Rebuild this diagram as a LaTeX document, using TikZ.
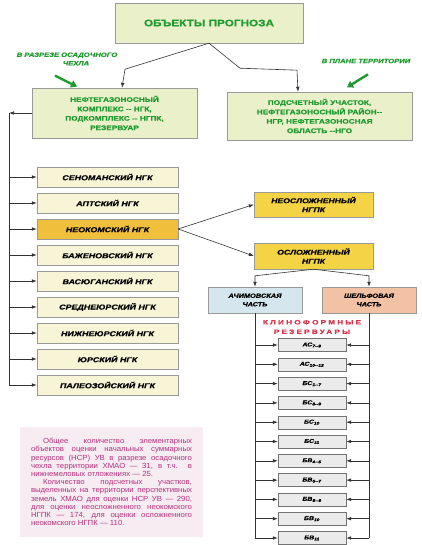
\documentclass[tikz,border=0pt]{standalone}
\usepackage{fontspec}
\setmainfont{Liberation Sans}
\newfontfamily\heavysans[FakeStretch=1.25, FakeBold=0.8, ItalicFont={Liberation Sans Bold Italic}]{Liberation Sans Bold}
\newfontfamily\spacedsans[FakeStretch=1.3, FakeBold=1, LetterSpace=35]{Liberation Sans Bold}
\newfontfamily\notesans[FakeStretch=1.05]{Liberation Sans}
\usetikzlibrary{arrows.meta}
\definecolor{boxgreen}{HTML}{EAF0CA}
\definecolor{boxcream}{HTML}{F7F5D6}
\definecolor{boxorange}{HTML}{F0C03C}
\definecolor{boxyellow}{HTML}{F4D444}
\definecolor{boxblue}{HTML}{D6E6EE}
\definecolor{boxsalmon}{HTML}{F3C2A4}
\definecolor{textgreen}{HTML}{1E9A2E}
\definecolor{headred}{HTML}{D8344C}
\definecolor{notebg}{HTML}{F6ECF2}
\definecolor{notetext}{HTML}{B5307C}
\begin{document}
\begin{tikzpicture}[x=1pt, y=-1pt,
    line/.style={draw=black!80, line width=0.6pt},
    arr/.style={line, -{Latex[length=5pt,width=3.6pt]}},
    greenarr/.style={draw=textgreen, line width=2.4pt, -{Triangle[length=6pt,width=7.5pt]}},
    greenbox/.style={draw=black!40, fill=boxgreen, text=textgreen, align=center, inner sep=0pt,
        font=\heavysans\fontsize{6.6}{9.4}\selectfont},
    greenlbl/.style={text=textgreen, align=center, inner sep=1pt,
        font=\heavysans\itshape\fontsize{6.1}{8.5}\selectfont},
    ngkbox/.style={draw=black!40, fill=boxcream, minimum width=141pt, minimum height=20pt, inner sep=0pt,
        font=\heavysans\itshape\fontsize{7.1}{8}\selectfont},
    ngpkbox/.style={draw=black!40, fill=boxyellow, minimum width=119pt, align=center, inner sep=0pt,
        font=\heavysans\itshape\fontsize{6.9}{9}\selectfont},
    partbox/.style={draw=black!40, minimum width=94pt, minimum height=26pt, align=center, inner sep=0pt,
        font=\heavysans\itshape\fontsize{5.9}{8.5}\selectfont},
    clinobox/.style={draw=black!55, fill=black!8, minimum width=68pt, minimum height=13pt, inner sep=0pt,
        font=\heavysans\itshape\fontsize{5.6}{6}\selectfont}
]
    \useasboundingbox (0,0) rectangle (422,545);

    % Top of the scheme
    \node[greenbox, minimum width=188pt, minimum height=40pt, font=\heavysans\fontsize{9.4}{10}\selectfont] (top) at (209,23) {ОБЪЕКТЫ ПРОГНОЗА};
    \node[greenbox, minimum width=165pt, minimum height=50pt] (ngk) at (114.5,113) {НЕФТЕГАЗОНОСНЫЙ\\КОМПЛЕКС -- НГК,\\ПОДКОМПЛЕКС -- НГПК,\\РЕЗЕРВУАР};
    \node[greenbox, minimum width=185pt, minimum height=48pt] (terr) at (319.5,116) {ПОДСЧЕТНЫЙ УЧАСТОК,\\НЕФТЕГАЗОНОСНЫЙ РАЙОН--\\НГР, НЕФТЕГАЗОНОСНАЯ\\ОБЛАСТЬ --НГО};

    \draw[arr] (top.south) -- ++(-84,26) -- ([xshift=7.5pt]ngk.north);
    \draw[arr] (top.south) -- ++(31,25) -- ++(57,2) -- ([xshift=-21.5pt]terr.north);

    % Green labels
    \node[greenlbl] (lblsec) at (67,59) {В РАЗРЕЗЕ ОСАДОЧНОГО\\\hspace*{18pt}ЧЕХЛА};
    \node[greenlbl] (lblplan) at (366,61) {В ПЛАНЕ ТЕРРИТОРИИ};
    \draw[greenarr] ([xshift=-12pt,yshift=-9pt]lblsec.south) -- ++(22,11);
    \draw[greenarr] ([xshift=2pt,yshift=-10pt]lblplan.south) -- ++(-21,13);

    % Oil and gas complexes
    \node[ngkbox] (cenoman) at (107.5,177) {СЕНОМАНСКИЙ НГК};
    \node[ngkbox] (apt) at (107.5,203) {АПТСКИЙ НГК};
    \node[ngkbox, fill=boxorange] (neocom) at (107.5,229) {НЕОКОМСКИЙ НГК};
    \node[ngkbox] (bazhen) at (107.5,255) {БАЖЕНОВСКИЙ НГК};
    \node[ngkbox] (vasyugan) at (107.5,281) {ВАСЮГАНСКИЙ НГК};
    \node[ngkbox] (midjur) at (107.5,307) {СРЕДНЕЮРСКИЙ НГК};
    \node[ngkbox] (lowjur) at (107.5,333) {НИЖНЕЮРСКИЙ НГК};
    \node[ngkbox] (jur) at (107.5,359) {ЮРСКИЙ НГК};
    \node[ngkbox] (paleo) at (107.5,385) {ПАЛЕОЗОЙСКИЙ НГК};

    \coordinate (railtop) at (9,113);
    \draw[arr] (ngk.west) -- (railtop);
    \draw[line] (railtop) -- (railtop |- paleo.west);
    \foreach \n in {cenoman,apt,neocom,bazhen,vasyugan,midjur,lowjur,jur,paleo}
        \draw[arr] (railtop |- \n.west) -- (\n.west);

    % Neocomian subcomplexes
    \node[ngpkbox, minimum height=25pt] (neosl) at (313.5,204.5) {НЕОСЛОЖНЕННЫЙ\\НГПК};
    \node[ngpkbox, minimum height=26pt] (osl) at (313.5,256) {ОСЛОЖНЕННЫЙ\\НГПК};
    \draw[arr] (neocom.east) -- (neosl.west);
    \draw[arr] (neocom.east) -- (osl.west);

    \node[partbox, fill=boxblue] (ach) at (255,300) {АЧИМОВСКАЯ\\ЧАСТЬ};
    \node[partbox, fill=boxsalmon] (shelf) at (369,300) {ШЕЛЬФОВАЯ\\ЧАСТЬ};
    \draw[arr] (osl.south) -- ([yshift=11pt]ach.north) -- (ach.north);
    \draw[arr] (osl.south) -- ([yshift=11pt]shelf.north) -- (shelf.north);

    % Clinoform reservoirs
    \node[text=headred, align=center, inner sep=0pt, font=\spacedsans\fontsize{6.3}{9.5}\selectfont] (clinohead) at (312,327) {КЛИНОФОРМНЫЕ\\РЕЗЕРВУАРЫ};

    \node[clinobox] (c1) at (312,345) {АС\textsubscript{7--9}};
    \node[clinobox] (c2) at (312,364.3) {АС\textsubscript{10--12}};
    \node[clinobox] (c3) at (312,383.6) {БС\textsubscript{1--7}};
    \node[clinobox] (c4) at (312,402.9) {БС\textsubscript{8--9}};
    \node[clinobox] (c5) at (312,422.2) {БС\textsubscript{10}};
    \node[clinobox] (c6) at (312,441.5) {БС\textsubscript{11}};
    \node[clinobox] (c7) at (312,460.8) {БВ\textsubscript{4--5}};
    \node[clinobox] (c8) at (312,480.1) {БВ\textsubscript{6--7}};
    \node[clinobox] (c9) at (312,499.4) {БВ\textsubscript{8--9}};
    \node[clinobox] (c10) at (312,518.7) {БВ\textsubscript{10}};
    \node[clinobox] (c11) at (312,538) {БВ\textsubscript{11}};

    \draw[line] (ach.south) -- (ach.south |- c11.west);
    \draw[line] (shelf.south) -- (shelf.south |- c11.east);
    \foreach \i in {1,...,11} {
        \draw[arr] (ach.south |- c\i.west) -- (c\i.west);
        \draw[arr] (shelf.south |- c\i.east) -- (c\i.east);
    }

    % Note
    \node[fill=notebg, text=notetext, text width=161pt, inner xsep=11pt, minimum height=110pt, align=justify,
        font=\notesans\fontsize{7.4}{8.2}\selectfont] (note) at (111.5,482)
        {\hspace*{12pt}Общее количество элементарных\linebreak
        объектов оценки начальных суммарных\linebreak
        ресурсов (НСР) УВ в разрезе осадочного\linebreak
        чехла территории ХМАО~— 31, в т.ч. в\linebreak
        нижнемеловых отложениях~— 25.\par
        \hspace*{12pt}Количество подсчетных участков,\linebreak
        выделенных на территории перспективных\linebreak
        земель ХМАО для оценки НСР УВ~— 290,\linebreak
        для оценки неосложненного неокомского\linebreak
        НГПК~— 174, для оценки осложненного\linebreak
        неокомского НГПК~— 110.};
\end{tikzpicture}
\end{document}
